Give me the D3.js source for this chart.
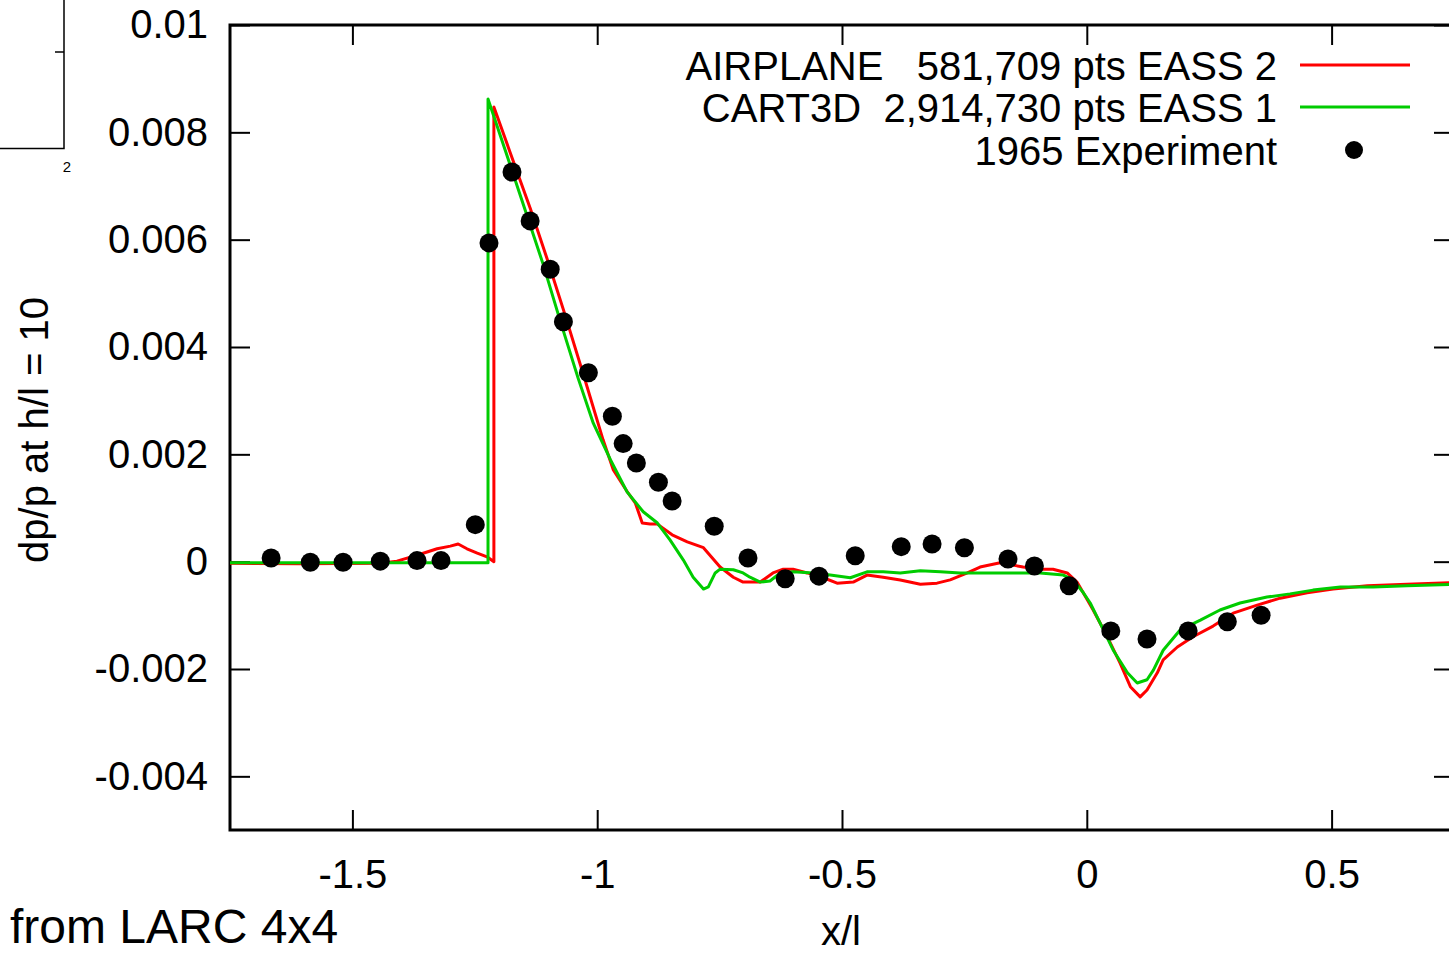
<!DOCTYPE html>
<html>
<head>
<meta charset="utf-8">
<script src="https://cdn.jsdelivr.net/npm/d3@7"></script>
<style>
  html, body { margin: 0; padding: 0; background: #fff; }
  svg { display: block; font-family: "Liberation Sans", Arial, sans-serif; }
</style>
</head>
<body>
<svg id="chart" width="1449" height="953"></svg>
<script>
// Sonic-boom pressure signature: dp/p at h/l = 10 versus x/l

const xTicks = [-1.5, -1, -0.5, 0, 0.5];
const xTickLabels = ["-1.5", "-1", "-0.5", "0", "0.5"];
const yTicks = [0.01, 0.008, 0.006, 0.004, 0.002, 0, -0.002, -0.004];
const yTickLabels = ["0.01", "0.008", "0.006", "0.004", "0.002", "0", "-0.002", "-0.004"];

const seriesNames = [
  "AIRPLANE   581,709 pts EASS 2",
  "CART3D  2,914,730 pts EASS 1",
  "1965 Experiment"
];

// AIRPLANE solution [x/l, dp/p]
const airplane = [
  [-1.75, -0.00003], [-1.607, -0.00004], [-1.443, -0.00003], [-1.409, 0.00001],
  [-1.368, 0.00012], [-1.327, 0.00024], [-1.300, 0.00029], [-1.284, 0.00033],
  [-1.266, 0.00024], [-1.245, 0.00016], [-1.225, 0.00009], [-1.211, 0.0],
  [-1.211, 0.00847], [-1.178, 0.00763], [-1.137, 0.00659], [-1.100, 0.00558],
  [-1.065, 0.00458], [-1.025, 0.00339], [-0.988, 0.00227], [-0.967, 0.00171],
  [-0.937, 0.00128], [-0.922, 0.00109], [-0.908, 0.00072], [-0.892, 0.0007],
  [-0.877, 0.0007], [-0.847, 0.0005], [-0.816, 0.00037], [-0.783, 0.00026],
  [-0.749, -0.0001], [-0.722, -0.00029], [-0.702, -0.00038], [-0.667, -0.00038],
  [-0.641, -0.00021], [-0.620, -0.00014], [-0.600, -0.00014], [-0.571, -0.00021],
  [-0.538, -0.0003], [-0.510, -0.0004], [-0.477, -0.00038], [-0.449, -0.00025],
  [-0.416, -0.00029], [-0.381, -0.00034], [-0.340, -0.00042], [-0.306, -0.0004],
  [-0.279, -0.00034], [-0.244, -0.00021], [-0.218, -0.0001], [-0.177, -0.00002],
  [-0.130, -0.0001], [-0.095, -0.00014], [-0.069, -0.00014], [-0.040, -0.00021],
  [-0.020, -0.00038], [0.001, -0.00071], [0.013, -0.0009], [0.042, -0.0014],
  [0.068, -0.00189], [0.089, -0.00233], [0.109, -0.00252], [0.123, -0.00239],
  [0.144, -0.00207], [0.156, -0.00183], [0.185, -0.00159], [0.217, -0.0014],
  [0.258, -0.0012], [0.299, -0.00096], [0.348, -0.00081], [0.395, -0.00068],
  [0.450, -0.00058], [0.503, -0.00051], [0.573, -0.00045], [0.654, -0.00042],
  [0.75, -0.00039]
];

// CART3D solution [x/l, dp/p]
const cart3d = [
  [-1.75, -0.00002], [-1.223, -0.00002], [-1.223, 0.00862], [-1.188, 0.00767],
  [-1.147, 0.00655], [-1.110, 0.00553], [-1.076, 0.0045], [-1.039, 0.00342],
  [-1.008, 0.00258], [-0.973, 0.0019], [-0.939, 0.0013], [-0.906, 0.00093],
  [-0.877, 0.00072], [-0.851, 0.0004], [-0.824, 0.00003], [-0.804, -0.00029],
  [-0.783, -0.00051], [-0.773, -0.00047], [-0.759, -0.00021], [-0.749, -0.00014],
  [-0.722, -0.00015], [-0.702, -0.00021], [-0.688, -0.00029], [-0.667, -0.00038],
  [-0.647, -0.00036], [-0.626, -0.00021], [-0.600, -0.00019], [-0.559, -0.00021],
  [-0.524, -0.00025], [-0.483, -0.0003], [-0.449, -0.00019], [-0.416, -0.00019],
  [-0.381, -0.00021], [-0.340, -0.00017], [-0.299, -0.00019], [-0.259, -0.00021],
  [-0.218, -0.00021], [-0.163, -0.00021], [-0.095, -0.00021], [-0.048, -0.00025],
  [-0.028, -0.00034], [-0.007, -0.00058], [0.007, -0.00077], [0.027, -0.00114],
  [0.054, -0.00165], [0.083, -0.00207], [0.103, -0.00226], [0.123, -0.0022],
  [0.136, -0.00202], [0.156, -0.00165], [0.191, -0.00127], [0.232, -0.00109],
  [0.272, -0.0009], [0.313, -0.00077], [0.368, -0.00066], [0.415, -0.0006],
  [0.462, -0.00053], [0.518, -0.00047], [0.585, -0.00047], [0.654, -0.00045],
  [0.75, -0.00042]
];

// 1965 wind-tunnel measurements [x/l, dp/p]
const experiment = [
  [-1.666, 0.00007], [-1.586, -0.00001], [-1.519, -0.00001], [-1.443, 0.00001],
  [-1.368, 0.00002], [-1.319, 0.00002], [-1.249, 0.00069], [-1.221, 0.00594],
  [-1.174, 0.00726], [-1.137, 0.00635], [-1.096, 0.00545], [-1.069, 0.00447],
  [-1.018, 0.00352], [-0.969, 0.00271], [-0.947, 0.0022], [-0.920, 0.00184],
  [-0.875, 0.00148], [-0.847, 0.00113], [-0.761, 0.00066], [-0.692, 0.00007],
  [-0.616, -0.00032], [-0.547, -0.00027], [-0.473, 0.00011], [-0.379, 0.00028],
  [-0.316, 0.00033], [-0.250, 0.00026], [-0.161, 0.00005], [-0.107, -0.00008],
  [-0.036, -0.00045], [0.049, -0.00129], [0.123, -0.00144], [0.207, -0.00129],
  [0.287, -0.00112], [0.356, -0.001]
];

const svg = d3.select("#chart");
const frame = { left: 230, top: 25, right: 1454, bottom: 830 };

const x = d3.scaleLinear().domain([-1.75, 0.75]).range([frame.left, frame.right]);
const y = d3.scaleLinear().domain([-0.005, 0.01]).range([frame.bottom, frame.top]);

const tickFont = 40;

// small stray frame fragment in the top-left corner
const frag = svg.append("g").attr("stroke", "#000").attr("stroke-width", 1.5).attr("fill", "none");
frag.append("path").attr("d", "M0,148.5H64V0");
frag.append("path").attr("d", "M55,52H64");
svg.append("text").attr("x", 67).attr("y", 172).attr("text-anchor", "middle")
  .attr("font-size", 15).text("2");

svg.append("defs").append("clipPath").attr("id", "plotClip")
  .append("rect")
  .attr("x", frame.left).attr("y", frame.top)
  .attr("width", frame.right - frame.left).attr("height", frame.bottom - frame.top);

// axes with inward ticks
const axisBottom = d3.axisBottom(x).tickValues(xTicks)
  .tickFormat((d, i) => xTickLabels[i]).tickSizeInner(-20).tickSizeOuter(0).tickPadding(30);
const axisTop = d3.axisTop(x).tickValues(xTicks).tickFormat("").tickSizeInner(-20).tickSizeOuter(0);
const axisLeft = d3.axisLeft(y).tickValues(yTicks)
  .tickFormat((d, i) => yTickLabels[i]).tickSizeInner(-20).tickSizeOuter(0).tickPadding(22);
const axisRight = d3.axisRight(y).tickValues(yTicks).tickFormat("").tickSizeInner(-20).tickSizeOuter(0);

function styleAxis(g) {
  g.select(".domain").remove();
  g.selectAll(".tick line").attr("stroke", "#000").attr("stroke-width", 2);
  g.selectAll(".tick text").attr("fill", "#000").attr("font-size", tickFont)
    .attr("font-family", "Liberation Sans, Arial, sans-serif");
}

svg.append("g").attr("transform", `translate(0,${frame.bottom})`).call(axisBottom).call(styleAxis);
svg.append("g").attr("transform", `translate(0,${frame.top})`).call(axisTop).call(styleAxis);
svg.append("g").attr("transform", `translate(${frame.left},0)`).call(axisLeft).call(styleAxis);
svg.append("g").attr("transform", `translate(${frame.right},0)`).call(axisRight).call(styleAxis);

// plot frame
svg.append("rect")
  .attr("x", frame.left).attr("y", frame.top)
  .attr("width", frame.right - frame.left).attr("height", frame.bottom - frame.top)
  .attr("fill", "none").attr("stroke", "#000").attr("stroke-width", 3);

// curves
const line = d3.line().x(d => x(d[0])).y(d => y(d[1]));
const plot = svg.append("g").attr("clip-path", "url(#plotClip)");

plot.append("path").datum(airplane)
  .attr("d", line).attr("fill", "none").attr("stroke", "#ff0000")
  .attr("stroke-width", 3).attr("stroke-linejoin", "round");
plot.append("path").datum(cart3d)
  .attr("d", line).attr("fill", "none").attr("stroke", "#00cc00")
  .attr("stroke-width", 3).attr("stroke-linejoin", "round");

plot.selectAll("circle.exp").data(experiment).join("circle")
  .attr("class", "exp")
  .attr("cx", d => x(d[0])).attr("cy", d => y(d[1]))
  .attr("r", 9.5).attr("fill", "#000");

// legend
const legend = svg.append("g");
const legendRows = [
  { label: seriesNames[0], baseline: 80, kind: "line", color: "#ff0000" },
  { label: seriesNames[1], baseline: 122, kind: "line", color: "#00cc00" },
  { label: seriesNames[2], baseline: 165, kind: "dot", color: "#000" }
];
legendRows.forEach(r => {
  legend.append("text")
    .attr("x", 1277).attr("y", r.baseline)
    .attr("text-anchor", "end").attr("font-size", tickFont)
    .attr("xml:space", "preserve")
    .style("white-space", "pre")
    .text(r.label);
  if (r.kind === "line") {
    legend.append("line")
      .attr("x1", 1300).attr("x2", 1410)
      .attr("y1", r.baseline - 15).attr("y2", r.baseline - 15)
      .attr("stroke", r.color).attr("stroke-width", 3);
  } else {
    legend.append("circle").attr("cx", 1354).attr("cy", r.baseline - 15)
      .attr("r", 9).attr("fill", r.color);
  }
});

// axis titles
svg.append("text")
  .attr("transform", "translate(48,430) rotate(-90)")
  .attr("text-anchor", "middle").attr("font-size", tickFont)
  .text("dp/p at h/l = 10");

svg.append("text")
  .attr("x", 841).attr("y", 945)
  .attr("text-anchor", "middle").attr("font-size", tickFont)
  .text("x/l");

svg.append("text")
  .attr("x", 10).attr("y", 943)
  .attr("font-size", 48)
  .text("from LARC 4x4");
</script>
</body>
</html>
